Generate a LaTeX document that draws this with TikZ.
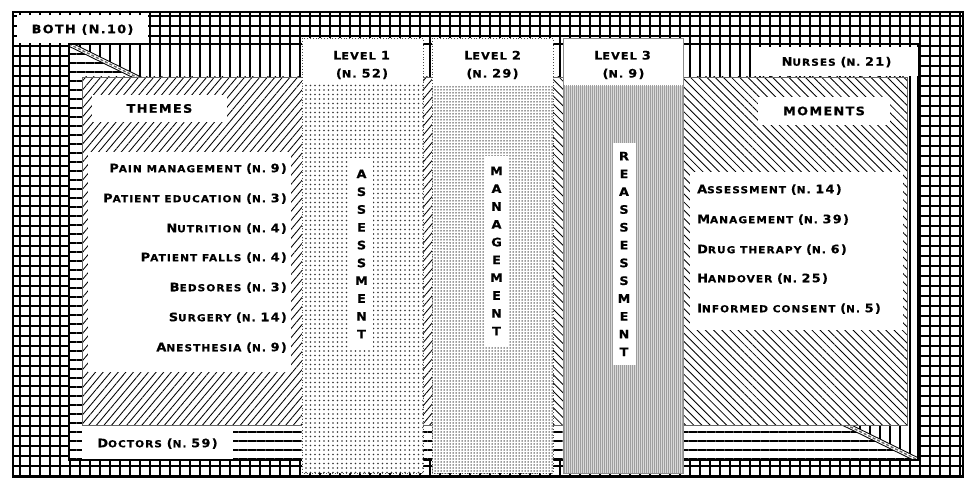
\documentclass[tikz,border=0pt]{standalone}
\usepackage{fontspec}
\usetikzlibrary{patterns.meta}
\newfontfamily\cop{DejaVu Sans}[UprightFont=* Bold, LetterSpace=11, FakeStretch=1.1, FakeBold=0.5]
\newcommand\Bg[1]{{\fontsize{11.7}{14}\selectfont #1}}
\newcommand\Nn[1]{\Bg{(}N. \Bg{#1)}}
\begin{document}
\begin{tikzpicture}[x=1pt,y=-1pt,
  txt/.style={inner sep=0pt, font=\cop\fontsize{9.6}{12}\selectfont, text height=8.5pt, text depth=0pt},
  htxt/.style={inner sep=0pt, font=\cop\fontsize{10.2}{12}\selectfont, text height=9pt, text depth=0pt},
  wbox/.style={txt, fill=white},
  vword/.style={fill=white, inner sep=0pt, minimum width=23pt, align=center, font=\cop\fontsize{11.7}{17.8}\selectfont},
  gridpat/.style={pattern={Hatch[angle=0,distance=10pt,line width=1.35pt]}},
  hpat/.style={pattern={Lines[angle=0,distance=9pt,line width=1.1pt]}},
  vpat/.style={pattern={Lines[angle=90,distance=10pt,line width=1.1pt]}},
  nepat/.style={pattern={Lines[angle=50,distance=5.8pt,line width=0.85pt]}},
  nwpat/.style={pattern={Lines[angle=-45,distance=5.8pt,line width=0.85pt]}},
  colborder/.style={draw=black!70, dotted, line width=0.8pt},
]
\useasboundingbox (0,0) rectangle (971,486);
% outer grid (BOTH)
\path[fill=white] (13,12) rectangle (963,477);
\path[gridpat] (13,12) rectangle (963,477);
\draw[line width=2pt] (13,12) rectangle (963,477);
\node[wbox, minimum width=131pt, minimum height=28pt] (both) at (82.5,29) {\Bg{BOTH (N.10)}};
% inner frame: doctors (horizontal) and nurses (vertical)
\path[fill=white] (69,44) rectangle (918,460);
\path[hpat] (69,44) -- (918,460) -- (69,460) -- cycle;
\path[vpat] (69,44) -- (918,44) -- (918,460) -- cycle;
\begin{scope}
  \clip (69,44) rectangle (918,460);
  \draw[line width=5pt] (69,44) -- (918,460);
  \draw[white, line width=3pt] (69,44) -- (918,460);
  \draw[black!60, line width=1.4pt, dash pattern=on 3pt off 2pt] (69,44) -- (918,460);
\end{scope}
\draw[line width=1.6pt] (69,44) rectangle (918,460);
\node[wbox, minimum width=163pt, minimum height=29pt] (nurses) at (836.5,61.5) {\Bg{N}URSES \Nn{21}};
\node[wbox, minimum width=151pt, minimum height=32pt] (doctors) at (157.5,443) {\Bg{D}OCTORS \Nn{59}};
% themes and moments
\path[fill=white] (82,77) rectangle (907,425);
\path[nepat] (82,77) rectangle (492,425);
\path[nwpat] (492,77) rectangle (907,425);
\draw[black!60, line width=0.8pt] (82,77) rectangle (907,425);
\node[wbox, minimum width=135pt, minimum height=27pt] (themes) at (159.5,108.5) {\Bg{THEMES}};
\node[wbox, minimum width=132pt, minimum height=28pt] (moments) at (824,111) {\Bg{MOMENTS}};
\path[fill=white] (88,152) rectangle (291,372);
\path[fill=white] (690,172) rectangle (903,330);
\node[txt, anchor=east] (t1) at (287,168) {\Bg{P}AIN MANAGEMENT \Nn{9}};
\node[txt, anchor=east] (t2) at (287,198) {\Bg{P}ATIENT EDUCATION \Nn{3}};
\node[txt, anchor=east] (t3) at (287,228) {\Bg{N}UTRITION \Nn{4}};
\node[txt, anchor=east] (t4) at (287,257) {\Bg{P}ATIENT FALLS \Nn{4}};
\node[txt, anchor=east] (t5) at (287,287) {\Bg{B}EDSORES \Nn{3}};
\node[txt, anchor=east] (t6) at (287,317) {\Bg{S}URGERY \Nn{14}};
\node[txt, anchor=east] (t7) at (287,347) {\Bg{A}NESTHESIA \Nn{9}};
\node[txt, anchor=west] (m1) at (697,189) {\Bg{A}SSESSMENT \Nn{14}};
\node[txt, anchor=west] (m2) at (697,219) {\Bg{M}ANAGEMENT \Nn{39}};
\node[txt, anchor=west] (m3) at (697,249) {\Bg{D}RUG THERAPY \Nn{6}};
\node[txt, anchor=west] (m4) at (697,278) {\Bg{H}ANDOVER \Nn{25}};
\node[txt, anchor=west] (m5) at (697,308) {\Bg{I}NFORMED CONSENT \Nn{5}};
% level columns
\path[fill=white] (302,38) rectangle (423,473);
\path[pattern={Dots[distance=4.5pt,radius=0.8pt]}, pattern color=black!80] (302,85) rectangle (423,473);
\draw[colborder] (302,38) rectangle (423,473);
\path[fill=white] (432,38) rectangle (553,473);
\path[pattern={Dots[distance=3pt,radius=0.75pt]}, pattern color=black!80] (432,87) rectangle (553,473);
\draw[colborder] (432,38) rectangle (553,473);
\path[fill=black!15] (563,86) rectangle (683,473);
\path[fill=white] (563,38) rectangle (683,86);
\path[pattern={Lines[angle=90,distance=2pt,line width=0.55pt]}, pattern color=black!38] (563,86) rectangle (683,473);
\draw[black!45, line width=0.8pt] (563,38) rectangle (683,473);
\node[htxt] (l1a) at (361.5,55) {\Bg{L}EVEL \Bg{1}};
\node[htxt] (l1b) at (362,73) {\Nn{52}};
\node[htxt] (l2a) at (492.5,55) {\Bg{L}EVEL \Bg{2}};
\node[htxt] (l2b) at (492.5,73) {\Nn{29}};
\node[htxt] (l3a) at (622.5,55) {\Bg{L}EVEL \Bg{3}};
\node[htxt] (l3b) at (623.5,73) {\Nn{9}};
\node[vword, minimum height=192pt] (w1) at (361.5,254) {A\\S\\S\\E\\S\\S\\M\\E\\N\\T};
\node[vword, minimum height=189pt] (w2) at (496.5,251) {M\\A\\N\\A\\G\\E\\M\\E\\N\\T};
\node[vword, minimum height=222pt] (w3) at (624,254) {R\\E\\A\\S\\S\\E\\S\\S\\M\\E\\N\\T};
\end{tikzpicture}
\end{document}
